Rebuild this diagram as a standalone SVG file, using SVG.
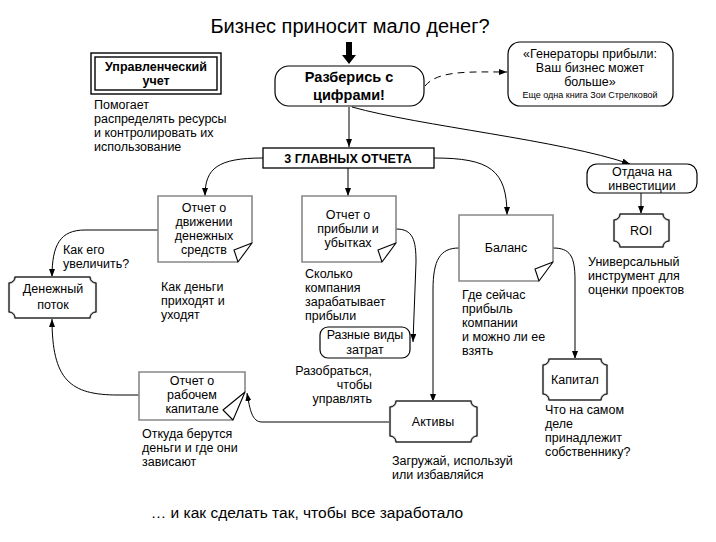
<svg xmlns="http://www.w3.org/2000/svg" width="716" height="542" viewBox="0 0 716 542">
<defs>
<marker id="ah" viewBox="0 0 8 6" refX="8" refY="3" markerWidth="8" markerHeight="6" orient="auto" markerUnits="userSpaceOnUse">
<path d="M0,0 L8,3 L0,6 Z" fill="#000"/>
</marker>
<style>
text{font-family:"Liberation Sans","Noto Sans CJK SC",sans-serif;fill:#000;}
.t{font-size:12.5px;}
.c{text-anchor:middle;}
.b{font-weight:bold;}
.rr{fill:#fff;stroke:#000;stroke-width:1.2;}
.note{fill:#fff;stroke:#888;stroke-width:1.6;}
.fold{fill:#fff;stroke:#000;stroke-width:1.1;stroke-linejoin:round;}
.plq{fill:#fff;stroke:#aaa;stroke-width:2.2;}
.plq2{fill:none;stroke:#000;stroke-width:0.9;}
.ln{fill:none;stroke:#000;stroke-width:1;marker-end:url(#ah);}
.dash{stroke-dasharray:7,5;}
</style>
</defs>
<rect width="716" height="542" fill="#fff"/>

<text x="350" y="33" class="c" style="font-size:20px">Бизнес приносит мало денег?</text>
<text x="307" y="518" class="c" style="font-size:15.5px">… и как сделать так, чтобы все заработало</text>

<g id="start-arrow">
<path d="M346,42 H352 V55 H356 L349,64 L342,55 H346 Z" fill="#000"/>
</g>

<g id="connectors">
<path class="ln dash" d="M425,86 C438,70 470,72 507,72"/>
<path class="ln" d="M349,107 V147"/>
<path class="ln" d="M352,107 C420,126 560,140 630,164"/>
<path class="ln" d="M263,158 C218,158 205,168 205,196"/>
<path class="ln" d="M348,168 V196"/>
<path class="ln" d="M434,158 C490,158 507,170 507,215"/>
<path class="ln" d="M158,230 H85 C60,230 52,245 52,277"/>
<path class="ln" d="M396,229 C413,229 416,240 416,262 L413,342"/>
<path class="ln" d="M459,248 C440,248 433,260 433,290 V402"/>
<path class="ln" d="M553,248 C570,248 575,256 575,280 V359"/>
<path class="ln" d="M390,422 H262 C252,422 250,410 247,393"/>
<path class="ln" d="M139,395 H118 C70,395 52,380 52,319"/>
<path class="ln" d="M641,193 V214"/>
</g>

<g id="razberis">
<rect class="rr" x="275" y="66" width="149" height="40" rx="14"/>
<text x="349" y="82" class="c b" style="font-size:14.5px">Разберись с</text>
<text x="349" y="100" class="c b" style="font-size:14.5px">цифрами!</text>
</g>

<g id="generatory">
<rect class="rr" x="508" y="42" width="165" height="64" rx="12"/>
<text x="590" y="58" class="c t">«Генераторы прибыли:</text>
<text x="590" y="72" class="c t">Ваш бизнес может</text>
<text x="590" y="86" class="c t">больше»</text>
<text x="590" y="98" class="c" style="font-size:9px">Еще одна книга Зои Стрелковой</text>
</g>

<g id="upr-uchet">
<rect x="91" y="53" width="130" height="41" fill="#fff" stroke="#000" stroke-width="1.4"/>
<rect x="95" y="57" width="122" height="33" fill="none" stroke="#000" stroke-width="1.4"/>
<text x="156" y="71" class="c b" style="font-size:12.5px">Управленческий</text>
<text x="156" y="85" class="c b" style="font-size:12.5px">учет</text>
</g>
<g id="upr-desc">
<text x="94" y="109" class="t">Помогает</text>
<text x="94" y="123" class="t">распределять ресурсы</text>
<text x="94" y="137" class="t">и контролировать их</text>
<text x="94" y="151" class="t">использование</text>
</g>

<g id="tri-otcheta">
<rect x="263" y="148" width="171" height="20" fill="#fff" stroke="#000" stroke-width="1.3"/>
<text x="348" y="163" class="c b" style="font-size:12.5px">3 ГЛАВНЫХ ОТЧЕТА</text>
</g>

<g id="otdacha">
<rect class="rr" x="587" y="164" width="110" height="29" rx="10"/>
<text x="642" y="176" class="c t">Отдача на</text>
<text x="642" y="190" class="c t">инвестиции</text>
</g>

<g id="roi">
<path class="plq" d="M620,214 H663 A6,6 0 0 0 669,220 V241 A6,6 0 0 0 663,247 H620 A6,6 0 0 0 614,241 V220 A6,6 0 0 0 620,214 Z"/>
<path class="plq2" d="M620,214 H663 A6,6 0 0 0 669,220 V241 A6,6 0 0 0 663,247 H620 A6,6 0 0 0 614,241 V220 A6,6 0 0 0 620,214 Z"/>
<text x="641" y="235" class="c t">ROI</text>
</g>
<g id="roi-desc">
<text x="588" y="266" class="t">Универсальный</text>
<text x="588" y="280" class="t">инструмент для</text>
<text x="588" y="294" class="t">оценки проектов</text>
</g>

<g id="dds">
<path class="note" d="M238,262 H158 V196 H252 V243"/>
<path class="fold" d="M252,243 L234,250 L238,262 Z"/>
<text x="204" y="212" class="c t">Отчет о</text>
<text x="204" y="226" class="c t">движении</text>
<text x="204" y="240" class="c t">денежных</text>
<text x="204" y="254" class="c t">средств</text>
</g>
<g id="dds-desc">
<text x="161" y="291" class="t">Как деньги</text>
<text x="161" y="305" class="t">приходят и</text>
<text x="161" y="319" class="t">уходят</text>
</g>
<g id="kak-uvel">
<text x="63" y="254" class="t">Как его</text>
<text x="63" y="268" class="t">увеличить?</text>
</g>

<g id="den-potok">
<path class="plq" d="M15,277 H90 A6,6 0 0 0 96,283 V312 A6,6 0 0 0 90,318 H15 A6,6 0 0 0 9,312 V283 A6,6 0 0 0 15,277 Z"/>
<path class="plq2" d="M15,277 H90 A6,6 0 0 0 96,283 V312 A6,6 0 0 0 90,318 H15 A6,6 0 0 0 9,312 V283 A6,6 0 0 0 15,277 Z"/>
<text x="53" y="293" class="c t">Денежный</text>
<text x="53" y="309" class="c t">поток</text>
</g>

<g id="opu">
<path class="note" d="M382,262 H302 V196 H396 V243"/>
<path class="fold" d="M396,243 L378,250 L382,262 Z"/>
<text x="348" y="219" class="c t">Отчет о</text>
<text x="348" y="233" class="c t">прибыли и</text>
<text x="348" y="247" class="c t">убытках</text>
</g>
<g id="opu-desc">
<text x="305" y="278" class="t">Сколько</text>
<text x="305" y="292" class="t">компания</text>
<text x="305" y="306" class="t">зарабатывает</text>
<text x="305" y="320" class="t">прибыли</text>
</g>

<g id="zatraty">
<rect class="rr" x="320" y="327" width="90" height="31" rx="8"/>
<text x="365" y="339" class="c t">Разные виды</text>
<text x="365" y="354" class="c t">затрат</text>
</g>
<g id="zatraty-desc">
<text x="372" y="375" class="t" text-anchor="end">Разобраться,</text>
<text x="372" y="389" class="t" text-anchor="end">чтобы</text>
<text x="372" y="403" class="t" text-anchor="end">управлять</text>
</g>

<g id="balans">
<path class="note" d="M539,281 H459 V215 H553 V262"/>
<path class="fold" d="M553,262 L535,269 L539,281 Z"/>
<text x="506" y="252" class="c t">Баланс</text>
</g>
<g id="balans-desc">
<text x="462" y="299" class="t">Где сейчас</text>
<text x="462" y="313" class="t">прибыль</text>
<text x="462" y="327" class="t">компании</text>
<text x="462" y="341" class="t">и можно ли ее</text>
<text x="462" y="355" class="t">взять</text>
</g>

<g id="aktivy">
<path class="plq" d="M396,401 H471 A6,6 0 0 0 477,407 V436 A6,6 0 0 0 471,442 H396 A6,6 0 0 0 390,436 V407 A6,6 0 0 0 396,401 Z"/>
<path class="plq2" d="M396,401 H471 A6,6 0 0 0 477,407 V436 A6,6 0 0 0 471,442 H396 A6,6 0 0 0 390,436 V407 A6,6 0 0 0 396,401 Z"/>
<text x="433" y="426" class="c t">Активы</text>
</g>
<g id="aktivy-desc">
<text x="392" y="465" class="t">Загружай, используй</text>
<text x="392" y="479" class="t">или избавляйся</text>
</g>

<g id="kapital">
<path class="plq" d="M549,359 H601 A6,6 0 0 0 607,365 V394 A6,6 0 0 0 601,400 H549 A6,6 0 0 0 543,394 V365 A6,6 0 0 0 549,359 Z"/>
<path class="plq2" d="M549,359 H601 A6,6 0 0 0 607,365 V394 A6,6 0 0 0 601,400 H549 A6,6 0 0 0 543,394 V365 A6,6 0 0 0 549,359 Z"/>
<text x="575" y="384" class="c t">Капитал</text>
</g>
<g id="kapital-desc">
<text x="545" y="414" class="t">Что на самом</text>
<text x="545" y="428" class="t">деле</text>
<text x="545" y="442" class="t">принадлежит</text>
<text x="545" y="456" class="t">собственнику?</text>
</g>

<g id="rab-kapital">
<path class="note" d="M233,420 H139 V372 H245 V392"/>
<path class="fold" d="M245,392 L223,410 L233,420 Z"/>
<text x="192" y="385" class="c t">Отчет о</text>
<text x="192" y="399" class="c t">рабочем</text>
<text x="192" y="413" class="c t">капитале</text>
</g>
<g id="rab-desc">
<text x="142" y="438" class="t">Откуда берутся</text>
<text x="142" y="452" class="t">деньги и где они</text>
<text x="142" y="466" class="t">зависают</text>
</g>
</svg>
